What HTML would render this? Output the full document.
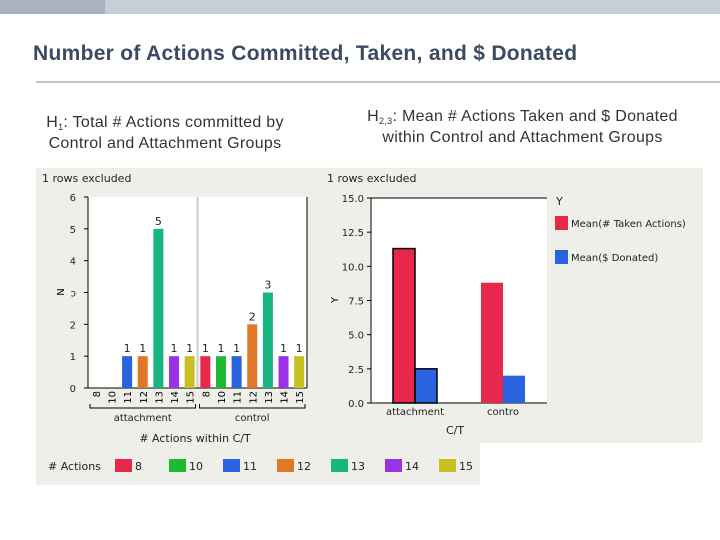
<!DOCTYPE html>
<html><head><meta charset="utf-8"><style>
body{margin:0;width:720px;height:540px;background:#fff;position:relative;overflow:hidden;font-family:"Liberation Sans",sans-serif}
.abs{position:absolute}
sub{font-size:9px;position:relative;top:3px;vertical-align:baseline;line-height:0}
</style></head><body>
<div class="abs" style="left:0;top:0;width:720px;height:14px;background:#c6ced9"></div>
<div class="abs" style="left:0;top:0;width:105px;height:14px;background:#a9b2be"></div>
<div class="abs" style="left:33px;top:42px;font-size:21px;font-weight:bold;color:#3b4a63;white-space:nowrap;letter-spacing:0.3px">Number of Actions Committed, Taken, and $ Donated</div>
<div class="abs" style="left:36px;top:81px;width:684px;height:2px;background:#c4c4c4"></div>
<div class="abs" style="left:15px;top:112px;width:300px;text-align:center;font-size:16px;color:#333;line-height:21px;letter-spacing:0.3px">H<sub>1</sub>: Total # Actions committed by<br>Control and Attachment Groups</div>
<div class="abs" style="left:340px;top:106px;width:365px;text-align:center;font-size:16px;color:#333;line-height:21px;letter-spacing:0.3px">H<sub>2,3</sub>: Mean # Actions Taken and $ Donated<br>within Control and Attachment Groups</div>
<svg class="abs" style="left:0;top:0" width="720" height="540" font-family="DejaVu Sans, sans-serif">
<rect x="36" y="168" width="290" height="317" fill="#efefe9"/>
<rect x="36" y="443" width="444" height="42" fill="#efefe9"/>
<rect x="320" y="168" width="383" height="275" fill="#efefe9"/>
<g id="left"></g><g id="right"></g>
</svg>
<script>
const cats=['8','10','11','12','13','14','15'];
const colors=['#e8284a','#1fb833','#2a63e0','#e07828','#18b482','#9a33e8','#c8c022'];
const groups=['attachment','control'];
const counts=[[0,0,1,1,5,1,1],[1,1,1,2,3,1,1]];
const leftTicks=[0,1,2,3,4,5,6];
const meanCats=['attachment','control'];
const meanTaken=[11.3,8.8];
const meanDonated=[2.5,2.0];
const rightTicks=[0,2.5,5,7.5,10,12.5,15];
const NS='http://www.w3.org/2000/svg';
function mk(p,t,a,txt){const e=document.createElementNS(NS,t);for(const k in a)e.setAttribute(k,a[k]);if(txt!==undefined)e.textContent=txt;p.appendChild(e);return e;}
const L=document.getElementById('left');
const x0=88,x1=307,yb=388,yt=197;
const yL=v=>yb-(v/6)*(yb-yt);
const gw=(x1-x0)/groups.length, sw=gw/cats.length;
const xL=(g,c)=>x0+g*gw+(c+0.5)*sw;
let t=mk(L,'text',{x:42,y:182,'font-size':11,fill:'#222'},'1 rows excluded');

let r=mk(L,'rect',{x:x0,y:yt,width:x1-x0,height:yb-yt,fill:'#fff'});

mk(L,'line',{x1:x0+gw,y1:yt,x2:x0+gw,y2:yb,stroke:'#ccc','stroke-width':2});
mk(L,'line',{x1:x0,y1:yt,x2:x0,y2:yb,stroke:'#000'});
mk(L,'line',{x1:x0,y1:yb,x2:x1,y2:yb,stroke:'#000'});
mk(L,'line',{x1:x1,y1:yt,x2:x1,y2:yb,stroke:'#000'});
leftTicks.forEach(v=>{
 mk(L,'line',{x1:x0-4,y1:yL(v),x2:x0,y2:yL(v),stroke:'#000'});
 const e=mk(L,'text',{x:x0-12,y:yL(v)+4,'font-size':10,'text-anchor':'end',fill:'#222'},v===3?'ɔ':String(v));
 
});
t=mk(L,'text',{x:0,y:0,'font-size':10,'text-anchor':'middle',transform:'translate(64,292) rotate(-90)'},'N');

groups.forEach((g,gi)=>{
 cats.forEach((c,ci)=>{
  const v=counts[gi][ci],cx=xL(gi,ci);
  if(v>0){
   const b=mk(L,'rect',{x:cx-5,y:yL(v),width:10,height:yb-yL(v),fill:colors[ci]});
   
   mk(L,'text',{x:cx,y:yL(v)-4,'font-size':11,'text-anchor':'middle',fill:'#222'},String(v));
  }
  const tl=mk(L,'text',{x:0,y:0,'font-size':10,'text-anchor':'end',transform:`translate(${cx+4},${yb+3}) rotate(-90)`},c);
  
 });
 const gx0=x0+gi*gw+2,gx1=x0+(gi+1)*gw-2;
 mk(L,'path',{d:`M${gx0} 404 V408 H${gx1} V404`,fill:'none',stroke:'#000'});
 const gl=mk(L,'text',{x:(gx0+gx1)/2,y:421,'font-size':10,'text-anchor':'middle',fill:'#222'},g);
 
});
t=mk(L,'text',{x:195,y:442,'font-size':11,'text-anchor':'middle',fill:'#222'},'# Actions within C/T');

t=mk(L,'text',{x:48,y:470,'font-size':11,fill:'#222'},'# Actions');

cats.forEach((c,ci)=>{
 const lx=115+ci*54;
 const s=mk(L,'rect',{x:lx,y:459,width:17,height:13,fill:colors[ci]});
 
 mk(L,'text',{x:lx+20,y:470,'font-size':11,fill:'#222'},c);
});
const R=document.getElementById('right');
const rx0=371,rx1=547,ryb=403,ryt=198;
const yR=v=>ryb-(v/15)*(ryb-ryt);
const cw=(rx1-rx0)/meanCats.length;
t=mk(R,'text',{x:327,y:182,'font-size':11,fill:'#222'},'1 rows excluded');

r=mk(R,'rect',{x:rx0,y:ryt,width:rx1-rx0,height:ryb-ryt,fill:'#fff'});

mk(R,'line',{x1:rx0,y1:ryt,x2:rx0,y2:ryb,stroke:'#000'});
mk(R,'line',{x1:rx0,y1:ryb,x2:rx1,y2:ryb,stroke:'#000'});
mk(R,'line',{x1:rx0,y1:ryt,x2:rx1,y2:ryt,stroke:'#000'});
rightTicks.forEach(v=>{
 mk(R,'line',{x1:rx0-4,y1:yR(v),x2:rx0,y2:yR(v),stroke:'#000'});
 const e=mk(R,'text',{x:rx0-7,y:yR(v)+4,'font-size':10,'text-anchor':'end',fill:'#222'},v.toFixed(1));
 
});
t=mk(R,'text',{x:0,y:0,'font-size':10,'text-anchor':'middle',transform:'translate(338,300) rotate(-90)'},'Y');

meanCats.forEach((c,i)=>{
 const cx=rx0+(i+0.5)*cw;
 const sel=i===0;
 const b1=mk(R,'rect',{x:cx-22,y:yR(meanTaken[i]),width:22,height:ryb-yR(meanTaken[i]),fill:'#e8284a',stroke:sel?'#000':'none','stroke-width':1.5});
 
 const b2=mk(R,'rect',{x:cx,y:yR(meanDonated[i]),width:22,height:ryb-yR(meanDonated[i]),fill:'#2a63e0',stroke:sel?'#000':'none','stroke-width':1.5});
 
 const l=mk(R,'text',{x:cx,y:415,'font-size':10,'text-anchor':'middle',fill:'#222'},c==='control'?'contro':c);
 
});
t=mk(R,'text',{x:455,y:434,'font-size':11,'text-anchor':'middle',fill:'#222'},'C/T');

mk(R,'text',{x:556,y:205,'font-size':11,fill:'#222'},'Y');
const legNames=['Mean(# Taken Actions)','Mean($ Donated)'],legCol=['#e8284a','#2a63e0'];
legNames.forEach((n,i)=>{
 const y=216+i*34;
 const s=mk(R,'rect',{x:555,y:y,width:13,height:14,fill:legCol[i]});
 
 mk(R,'text',{x:571,y:y+11,'font-size':10,fill:'#222'},n);
});
</script>
</body></html>
